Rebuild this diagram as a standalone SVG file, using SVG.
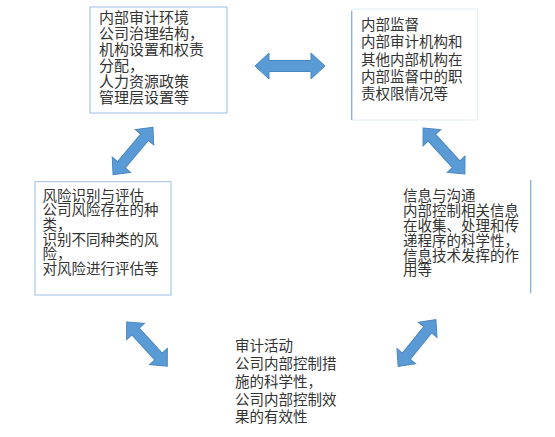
<svg xmlns="http://www.w3.org/2000/svg" width="555" height="437" viewBox="0 0 555 437">
<style>
  .t { font-family: "Liberation Sans", "Noto Sans CJK SC", sans-serif; font-size: 14.5px; fill: #333333; }
  .t15 { font-size: 15px; }
  .box { fill: #ffffff; stroke: #9dbde3; stroke-width: 1; }
  .faint { fill: none; stroke: #e2ebf6; stroke-width: 1; }
  .edge { stroke: #86aedd; stroke-width: 1.3; fill: none; }
  .arr { fill: #5b9bd5; stroke: #4a86c2; stroke-width: 1; stroke-linejoin: miter; }
</style>
<rect width="555" height="437" fill="#ffffff"/>

<g id="connectors">
  <polygon class="arr" transform="translate(290,66)" points="-35,0 -21,-13 -21,-5.5 21,-5.5 21,-13 35,0 21,13 21,5.5 -21,5.5 -21,13"/>
  <polygon class="arr" transform="translate(133,151) rotate(-50)" points="-31,0 -18,-12 -18,-5 18,-5 18,-12 31,0 18,12 18,5 -18,5 -18,12"/>
  <polygon class="arr" transform="translate(444,151) rotate(47.6)" points="-31,0 -18,-12 -18,-5 18,-5 18,-12 31,0 18,12 18,5 -18,5 -18,12"/>
  <polygon class="arr" transform="translate(147,344) rotate(47.5)" points="-30,0 -17,-12 -17,-5 17,-5 17,-12 30,0 17,12 17,5 -17,5 -17,12"/>
  <polygon class="arr" transform="translate(417,343) rotate(-51)" points="-30,0 -17,-12 -17,-5 17,-5 17,-12 30,0 17,12 17,5 -17,5 -17,12"/>
</g>

<g id="node-env">
  <rect class="box" x="90" y="7" width="137" height="106"/>
  <text class="t t15" x="99" y="22.5">
    <tspan x="99" y="22.5">内部审计环境</tspan>
    <tspan x="99" y="38.5">公司治理结构，</tspan>
    <tspan x="99" y="54.5">机构设置和权责</tspan>
    <tspan x="99" y="70.5">分配，</tspan>
    <tspan x="99" y="86.7">人力资源政策</tspan>
    <tspan x="99" y="102.5">管理层设置等</tspan>
  </text>
</g>

<g id="node-monitor">
  <rect class="faint" x="351.7" y="9" width="126" height="111"/>
  <line class="edge" x1="351.7" y1="11" x2="351.7" y2="120"/>
  <text class="t" x="361" y="29.5">
    <tspan x="361" y="29.5">内部监督</tspan>
    <tspan x="361" y="47">内部审计机构和</tspan>
    <tspan x="361" y="64.5">其他内部机构在</tspan>
    <tspan x="361" y="82">内部监督中的职</tspan>
    <tspan x="361" y="99">责权限情况等</tspan>
  </text>
</g>

<g id="node-risk">
  <rect class="box" x="35" y="181.7" width="136" height="113.3"/>
  <text class="t" x="42.5" y="200.5">
    <tspan x="42.5" y="200.5">风险识别与评估</tspan>
    <tspan x="42.5" y="215.3">公司风险存在的种</tspan>
    <tspan x="42.5" y="230">类，</tspan>
    <tspan x="42.5" y="244.5">识别不同种类的风</tspan>
    <tspan x="42.5" y="259.3">险，</tspan>
    <tspan x="42.5" y="274">对风险进行评估等</tspan>
  </text>
</g>

<g id="node-info">
  <line class="edge" x1="530.7" y1="180" x2="530.7" y2="293"/>
  <text class="t" x="403" y="200.5">
    <tspan x="403" y="200.5">信息与沟通</tspan>
    <tspan x="403" y="215.5">内部控制相关信息</tspan>
    <tspan x="403" y="230.5">在收集、处理和传</tspan>
    <tspan x="403" y="245.5">递程序的科学性，</tspan>
    <tspan x="403" y="260.5">信息技术发挥的作</tspan>
    <tspan x="403" y="275">用等</tspan>
  </text>
</g>

<g id="node-audit">
  <text class="t" x="235" y="350.5">
    <tspan x="235" y="350.5">审计活动</tspan>
    <tspan x="235" y="368.5">公司内部控制措</tspan>
    <tspan x="235" y="386.5">施的科学性，</tspan>
    <tspan x="235" y="404.5">公司内部控制效</tspan>
    <tspan x="235" y="421.5">果的有效性</tspan>
  </text>
</g>
</svg>
